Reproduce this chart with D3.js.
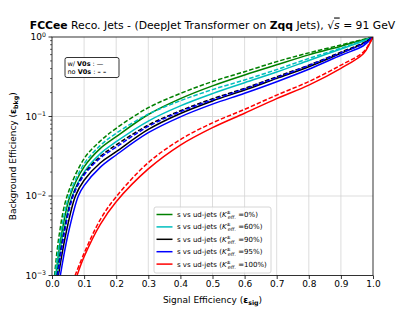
<!DOCTYPE html>
<html>
<head>
<meta charset="utf-8">
<script src="https://cdn.jsdelivr.net/npm/d3@7"></script>
<style>
  body { margin: 0; background: #fff; }
  svg { font-family: "DejaVu Sans", sans-serif; }
</style>
</head>
<body>
<div id="chart"></div>
<script>
// ROC curves, signal eff vs background eff (log)
var xTicks = [0.0, 0.1, 0.2, 0.3, 0.4, 0.5, 0.6, 0.7, 0.8, 0.9, 1.0];
var yTicks = [1e-3, 1e-2, 1e-1, 1];
var yTickExp = ["\u22123", "\u22122", "\u22121", "0"];
var kEffLabels = ["0%", "60%", "90%", "95%", "100%"];
var curveColors = ["#008000", "#00bfbf", "#000000", "#0000ff", "#ff0000"];

// w/ V0s (solid)
var sig_k0_w   = [0.012, 0.029, 0.056, 0.1, 0.15, 0.2, 0.3, 0.4, 0.5, 0.6, 0.7, 0.8, 0.9, 0.97, 1];
var bkg_k0_w   = [0.001, 0.00316, 0.01, 0.0232, 0.0394, 0.0557, 0.106, 0.168, 0.243, 0.333, 0.447, 0.596, 0.767, 0.923, 1];
var sig_k60_w  = [0.014, 0.033, 0.063, 0.1, 0.15, 0.2, 0.3, 0.4, 0.5, 0.6, 0.7, 0.8, 0.9, 0.97, 1];
var bkg_k60_w  = [0.001, 0.00316, 0.01, 0.0200, 0.0339, 0.0482, 0.0877, 0.136, 0.194, 0.266, 0.363, 0.507, 0.708, 0.891, 1];
var sig_k90_w  = [0.020, 0.042, 0.073, 0.1, 0.15, 0.2, 0.3, 0.4, 0.5, 0.6, 0.7, 0.8, 0.9, 0.97, 1];
var bkg_k90_w  = [0.001, 0.00316, 0.01, 0.0158, 0.0260, 0.0361, 0.0687, 0.109, 0.157, 0.215, 0.302, 0.422, 0.624, 0.832, 1];
var sig_k95_w  = [0.026, 0.049, 0.082, 0.1, 0.15, 0.2, 0.3, 0.4, 0.5, 0.6, 0.7, 0.8, 0.9, 0.97, 1];
var bkg_k95_w  = [0.001, 0.00316, 0.01, 0.0135, 0.0229, 0.0328, 0.0625, 0.0991, 0.143, 0.196, 0.274, 0.393, 0.589, 0.776, 1];
var sig_k100_w = [0.078, 0.1, 0.15, 0.2, 0.3, 0.4, 0.5, 0.6, 0.7, 0.8, 0.9, 0.97, 0.99, 1];
var bkg_k100_w = [0.001, 0.00172, 0.00437, 0.00847, 0.0219, 0.0437, 0.0724, 0.110, 0.168, 0.248, 0.403, 0.617, 0.832, 1];

// no V0s (dashed)
var sig_k0_n   = [0.008, 0.022, 0.047, 0.1, 0.15, 0.2, 0.3, 0.4, 0.5, 0.6, 0.7, 0.8, 0.9, 0.97, 1];
var bkg_k0_n   = [0.001, 0.00316, 0.01, 0.0295, 0.0490, 0.0711, 0.129, 0.195, 0.275, 0.366, 0.490, 0.631, 0.794, 0.933, 1];
var sig_k60_n  = [0.010, 0.026, 0.053, 0.1, 0.15, 0.2, 0.3, 0.4, 0.5, 0.6, 0.7, 0.8, 0.9, 0.97, 1];
var bkg_k60_n  = [0.001, 0.00316, 0.01, 0.0254, 0.0430, 0.0615, 0.107, 0.158, 0.218, 0.288, 0.389, 0.537, 0.724, 0.902, 1];
var sig_k90_n  = [0.016, 0.035, 0.064, 0.1, 0.15, 0.2, 0.3, 0.4, 0.5, 0.6, 0.7, 0.8, 0.9, 0.97, 1];
var bkg_k90_n  = [0.001, 0.00316, 0.01, 0.0191, 0.0313, 0.0439, 0.078, 0.118, 0.167, 0.226, 0.316, 0.442, 0.646, 0.841, 1];
var sig_k95_n  = [0.018, 0.037, 0.066, 0.1, 0.15, 0.2, 0.3, 0.4, 0.5, 0.6, 0.7, 0.8, 0.9, 0.97, 1];
var bkg_k95_n  = [0.001, 0.00316, 0.01, 0.0183, 0.0299, 0.0413, 0.075, 0.115, 0.162, 0.222, 0.309, 0.437, 0.631, 0.822, 1];
var sig_k100_n = [0.072, 0.1, 0.15, 0.2, 0.3, 0.4, 0.5, 0.6, 0.7, 0.8, 0.9, 0.97, 0.99, 1];
var bkg_k100_n = [0.001, 0.0019, 0.00501, 0.0098, 0.0263, 0.0513, 0.0832, 0.123, 0.186, 0.275, 0.442, 0.646, 0.851, 1];

var sigW = [sig_k0_w, sig_k60_w, sig_k90_w, sig_k95_w, sig_k100_w];
var bkgW = [bkg_k0_w, bkg_k60_w, bkg_k90_w, bkg_k95_w, bkg_k100_w];
var sigN = [sig_k0_n, sig_k60_n, sig_k90_n, sig_k95_n, sig_k100_n];
var bkgN = [bkg_k0_n, bkg_k60_n, bkg_k90_n, bkg_k95_n, bkg_k100_n];

var W = 415, H = 311;
var L = 52, R = 373, T = 37, B = 275.5;

var svg = d3.select("#chart").append("svg")
    .attr("width", W).attr("height", H);

var x = d3.scaleLinear().domain([0, 1]).range([L, R]);
var y = d3.scaleLog().domain([1e-3, 1]).range([B, T]);

// grid
svg.append("g").selectAll("line").data(xTicks.slice(1, -1)).join("line")
    .attr("x1", d => x(d)).attr("x2", d => x(d))
    .attr("y1", T).attr("y2", B)
    .attr("stroke", "#d4d4d4").attr("stroke-width", 0.8);
svg.append("g").selectAll("line").data(yTicks.slice(1, -1)).join("line")
    .attr("y1", d => y(d)).attr("y2", d => y(d))
    .attr("x1", L).attr("x2", R)
    .attr("stroke", "#d4d4d4").attr("stroke-width", 0.8);

// axes
var xAxis = svg.append("g").attr("transform", "translate(0," + B + ")")
    .call(d3.axisBottom(x).tickValues(xTicks).tickFormat(d3.format(".1f")).tickSize(3.5).tickPadding(2));
xAxis.select(".domain").remove();
xAxis.selectAll("line").attr("stroke-width", 0.8);
xAxis.selectAll("text").attr("font-size", 9).attr("font-family", "DejaVu Sans").attr("fill", "#000");

var minor = [];
[1e-3, 1e-2, 1e-1].forEach(function(dec) {
    for (var k = 2; k <= 9; k++) minor.push(dec * k);
});
svg.append("g").selectAll("line").data(minor).join("line")
    .attr("x1", L - 2).attr("x2", L)
    .attr("y1", d => y(d)).attr("y2", d => y(d))
    .attr("stroke", "#000").attr("stroke-width", 0.6);
svg.append("g").selectAll("line").data(yTicks).join("line")
    .attr("x1", L - 3.5).attr("x2", L)
    .attr("y1", d => y(d)).attr("y2", d => y(d))
    .attr("stroke", "#000").attr("stroke-width", 0.8);

var yLab = svg.append("g").selectAll("text").data(yTicks).join("text")
    .attr("x", L - 6).attr("y", d => y(d) + 3.4)
    .attr("text-anchor", "end").attr("font-size", 9).attr("fill", "#000");
yLab.append("tspan").text("10");
yLab.append("tspan").attr("dy", -3.6).attr("font-size", 6.2).text((d, i) => yTickExp[i]);

// curves
svg.append("clipPath").attr("id", "clip")
    .append("rect").attr("x", L).attr("y", T).attr("width", R - L).attr("height", B - T);

var line = d3.line().x(d => x(d[0])).y(d => y(d[1])).curve(d3.curveCatmullRom.alpha(0.5));
var plot = svg.append("g").attr("clip-path", "url(#clip)");

for (var i = 0; i < kEffLabels.length; i++) {
    var ptsW = sigW[i].map((s, j) => [s, bkgW[i][j]]);
    var ptsN = sigN[i].map((s, j) => [s, bkgN[i][j]]);
    plot.append("path").attr("d", line(ptsW))
	.attr("fill", "none").attr("stroke", curveColors[i]).attr("stroke-width", 1.5);
    plot.append("path").attr("d", line(ptsN))
	.attr("fill", "none").attr("stroke", curveColors[i]).attr("stroke-width", 1.5)
	.attr("stroke-dasharray", "4.5,2");
}

// frame
svg.append("rect").attr("x", L).attr("y", T).attr("width", R - L).attr("height", B - T)
    .attr("fill", "none").attr("stroke", "#000").attr("stroke-width", 0.8);

// title
var title = svg.append("text").attr("x", (L + R) / 2).attr("y", 28.5)
    .attr("text-anchor", "middle").attr("font-size", 10.8).attr("fill", "#000");
title.append("tspan").attr("font-weight", "bold").text("FCCee");
title.append("tspan").text(" Reco. Jets - (DeepJet Transformer on ");
title.append("tspan").attr("font-weight", "bold").text("Zqq");
title.append("tspan").text(" Jets), \u221A");
title.append("tspan").attr("font-style", "italic").attr("text-decoration", "overline").text("s");
title.append("tspan").text(" = 91 GeV");

// axis labels
var xl = svg.append("text").attr("x", (L + R) / 2).attr("y", 303)
    .attr("text-anchor", "middle").attr("font-size", 9).attr("fill", "#000");
xl.append("tspan").text("Signal Efficiency (");
xl.append("tspan").attr("font-weight", "bold").text("\u03B5");
xl.append("tspan").attr("font-weight", "bold").attr("font-size", 6.3).attr("dy", 2).text("sig");
xl.append("tspan").attr("dy", -2).text(")");

var yl = svg.append("text").attr("transform", "translate(16," + ((T + B) / 2) + ") rotate(-90)")
    .attr("text-anchor", "middle").attr("font-size", 9).attr("fill", "#000");
yl.append("tspan").text("Background Efficiency (");
yl.append("tspan").attr("font-weight", "bold").text("\u03B5");
yl.append("tspan").attr("font-weight", "bold").attr("font-size", 6.3).attr("dy", 2).text("bkg");
yl.append("tspan").attr("dy", -2).text(")");

// legend (K eff)
var lg = svg.append("g").attr("transform", "translate(154,207)");
lg.append("rect").attr("width", 117).attr("height", 66).attr("rx", 2)
    .attr("fill", "#fff").attr("fill-opacity", 0.8).attr("stroke", "#cccccc").attr("stroke-width", 0.8);
kEffLabels.forEach(function(lab, i) {
    var yy = 7.5 + i * 12.4;
    lg.append("line").attr("x1", 2.5).attr("x2", 18.5).attr("y1", yy).attr("y2", yy)
	.attr("stroke", curveColors[i]).attr("stroke-width", 1.5);
    var t = lg.append("text").attr("x", 23).attr("y", yy + 2.5).attr("font-size", 7).attr("fill", "#000");
    t.append("tspan").text("s vs ud-jets (");
    t.append("tspan").attr("font-style", "italic").text("K");
    t.append("tspan").attr("font-size", 5).attr("dy", -3).text("\u00B1");
    t.append("tspan").attr("font-size", 5).attr("font-style", "italic").attr("dx", -3).attr("dy", 5).text("eff.");
    t.append("tspan").attr("dy", -2).text(" =" + lab + ")");
});

// legend (V0s)
var lv = svg.append("g").attr("transform", "translate(65,57.5)");
lv.append("rect").attr("width", 54).attr("height", 20).attr("rx", 2)
    .attr("fill", "#fff").attr("stroke", "#000").attr("stroke-width", 0.8);
var t1 = lv.append("text").attr("x", 2.5).attr("y", 8).attr("font-size", 6.5).attr("fill", "#000");
t1.append("tspan").text("w/ ");
t1.append("tspan").attr("font-weight", "bold").text("V0s");
t1.append("tspan").text(" :  \u2014");
var t2 = lv.append("text").attr("x", 2.5).attr("y", 16.5).attr("font-size", 6.5).attr("fill", "#000");
t2.append("tspan").text("no ");
t2.append("tspan").attr("font-weight", "bold").text("V0s");
t2.append("tspan").text(" : ");
t2.append("tspan").attr("font-weight", "bold").text("\u2013 \u2013");
</script>
</body>
</html>
